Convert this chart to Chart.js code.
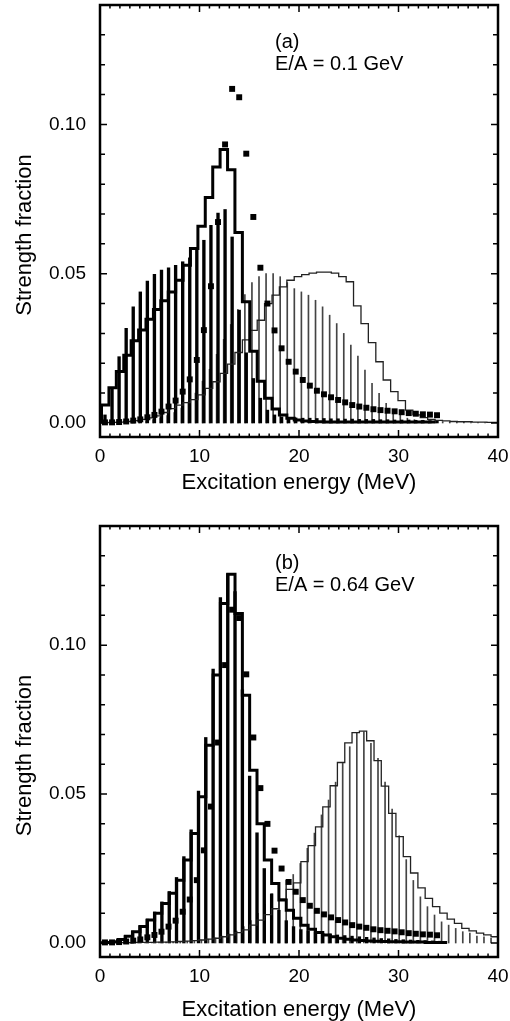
<!DOCTYPE html>
<html>
<head>
<meta charset="utf-8">
<script src="https://cdn.jsdelivr.net/npm/chart.js@4.4.1/dist/chart.umd.min.js"></script>
<style>
  html, body { margin: 0; padding: 0; background: #fff; }
  canvas { display: block; }
</style>
</head>
<body>
<canvas id="panelA" width="510" height="510"></canvas>
<canvas id="panelB" width="510" height="511"></canvas>
<script>
// squares: same reference strength in both panels
const squareEnergy = [0.50, 1.21, 1.92, 2.63, 3.34, 4.05, 4.76, 5.47, 6.18, 6.89, 7.60, 8.31, 9.02, 9.73, 10.44, 11.15,
  11.86, 12.57, 13.28, 13.99, 14.70, 15.41, 16.12, 16.83, 17.54, 18.25, 18.96, 19.67, 20.38, 21.09, 21.80, 22.51,
  23.22, 23.93, 24.64, 25.35, 26.06, 26.77, 27.48, 28.19, 28.90, 29.61, 30.32, 31.03, 31.74, 32.45, 33.16, 33.87];
const squareStrength = [0.0002, 0.0002, 0.0003, 0.0005, 0.0008, 0.0012, 0.0019, 0.0027, 0.0038, 0.0055, 0.0075, 0.0105,
  0.0146, 0.0211, 0.0311, 0.0458, 0.0673, 0.0933, 0.1119, 0.1091, 0.0902, 0.0690, 0.0520, 0.0400, 0.0310, 0.0250,
  0.0205, 0.0172, 0.0144, 0.0125, 0.0108, 0.0096, 0.0086, 0.0077, 0.0069, 0.0060, 0.0055, 0.0051, 0.0046, 0.0043,
  0.0041, 0.0039, 0.0036, 0.0033, 0.0031, 0.0029, 0.0028, 0.0026];

// panel (a): E/A = 0.1 GeV
const thickStickA = [0.0027, 0.0118, 0.0222, 0.0317, 0.0389, 0.0439, 0.0475, 0.0498, 0.0512, 0.0520, 0.0528, 0.0540,
  0.0553, 0.0579, 0.0612, 0.0662, 0.0703, 0.0715, 0.0623, 0.0378, 0.0235, 0.0149, 0.0083, 0.0043, 0.0027, 0.0020,
  0.0018, 0.0017, 0.0016, 0.0016, 0.0015, 0.0015, 0.0014, 0.0014, 0.0013, 0.0013, 0.0012, 0.0012, 0.0012, 0.0011,
  0.0011, 0.0010, 0.0010, 0.0010, 0.0009, 0.0009, 0.0008, 0.0008];
const thinStickEnergyA = [0.36, 1.07, 1.78, 2.49, 3.20, 3.91, 4.62, 5.33, 6.04, 6.75, 7.46, 8.17, 8.88, 9.59, 10.30,
  11.01, 11.72, 12.43, 13.14, 13.85, 14.56, 15.27, 15.98, 16.69, 17.40, 18.11, 18.82, 19.53, 20.24, 20.95, 21.66,
  22.37, 23.08, 23.79, 24.50, 25.21, 25.92, 26.63, 27.34, 28.05, 28.76, 29.47, 30.18, 30.89, 31.60, 32.31, 33.02,
  33.73, 34.44, 35.15, 35.86, 36.57, 37.28, 37.99, 38.70, 39.41];
const thinStickA = [0.0001, 0.0001, 0.0001, 0.0002, 0.0002, 0.0004, 0.0007, 0.0011, 0.0017, 0.0025, 0.0035, 0.0050,
  0.0070, 0.0100, 0.0140, 0.0180, 0.0230, 0.0280, 0.0330, 0.0380, 0.0430, 0.0470, 0.0490, 0.0500, 0.0500, 0.0490,
  0.0470, 0.0450, 0.0439, 0.0428, 0.0411, 0.0389, 0.0361, 0.0333, 0.0300, 0.0261, 0.0224, 0.0177, 0.0133, 0.0099,
  0.0066, 0.0043, 0.0027, 0.0016, 0.0011, 0.0008, 0.0006, 0.0005, 0.0004, 0.0003, 0.0002, 0.0002, 0.0001, 0.0001,
  0.0001, 0.0001];
const binEdgeA = [0, 0.15, 0.90, 1.64, 2.39, 3.13, 3.88, 4.62, 5.37, 6.11, 6.86, 7.60, 8.35, 9.09, 9.84, 10.58, 11.33,
  12.07, 12.82, 13.56, 14.31, 15.05, 15.80, 16.54, 17.29, 18.03, 18.78, 19.52, 20.27, 21.01, 21.76, 22.50, 23.25,
  23.99, 24.74, 25.48, 26.23, 26.97, 27.72, 28.46, 29.21, 29.95, 30.70, 31.44, 32.19, 32.93, 33.68, 34.42, 35.17,
  35.91, 36.66, 37.40, 38.15, 38.89, 39.64, 40.38];
const thickHistA = [0.0004, 0.0060, 0.0118, 0.0172, 0.0227, 0.0275, 0.0311, 0.0347, 0.0380, 0.0409, 0.0439, 0.0478,
  0.0528, 0.0584, 0.0659, 0.0755, 0.0857, 0.0916, 0.0848, 0.0638, 0.0406, 0.0240, 0.0140, 0.0083, 0.0047, 0.0027,
  0.0016, 0.0010, 0.0007, 0.0005, 0.0004, 0.0003, 0.0003, 0.0003, 0.0003, 0.0003, 0.0003, 0.0003, 0.0003, 0.0003,
  0.0003, 0.0003, 0.0003, 0.0003, 0.0003, 0.0003];
const thinHistA = [0.0001, 0.0001, 0.0002, 0.0003, 0.0005, 0.0008, 0.0012, 0.0017, 0.0024, 0.0035, 0.0048, 0.0060,
  0.0068, 0.0078, 0.0094, 0.0116, 0.0138, 0.0166, 0.0197, 0.0236, 0.0278, 0.0310, 0.0344, 0.0400, 0.0428, 0.0456,
  0.0478, 0.0490, 0.0497, 0.0502, 0.0505, 0.0505, 0.0502, 0.0490, 0.0473, 0.0392, 0.0333, 0.0269, 0.0205, 0.0144,
  0.0105, 0.0075, 0.0043, 0.0027, 0.0018, 0.0012, 0.0009, 0.0007, 0.0005, 0.0004, 0.0004, 0.0003, 0.0003, 0.0002,
  0.0002];

// panel (b): E/A = 0.64 GeV
const binEdgeB = [0, 0.34, 1.08, 1.81, 2.55, 3.28, 4.02, 4.75, 5.49, 6.22, 6.96, 7.69, 8.43, 9.16, 9.90, 10.63, 11.37,
  12.10, 12.84, 13.57, 14.31, 15.04, 15.78, 16.51, 17.25, 17.98, 18.72, 19.45, 20.19, 20.92, 21.66, 22.39, 23.13,
  23.86, 24.60, 25.33, 26.07, 26.80, 27.54, 28.27, 29.01, 29.74, 30.48, 31.21, 31.95, 32.68, 33.42, 34.15, 34.89,
  35.62, 36.36, 37.09, 37.83, 38.56, 39.30, 40.03];
const thickHistB = [0.0001, 0.0002, 0.0004, 0.0012, 0.0023, 0.0038, 0.0055, 0.0077, 0.0100, 0.0133, 0.0167, 0.0211,
  0.0279, 0.0368, 0.0491, 0.0664, 0.0900, 0.1140, 0.1238, 0.1106, 0.0832, 0.0580, 0.0400, 0.0279, 0.0200, 0.0144,
  0.0110, 0.0083, 0.0060, 0.0046, 0.0035, 0.0027, 0.0021, 0.0016, 0.0013, 0.0010, 0.0008, 0.0007, 0.0006, 0.0005,
  0.0004, 0.0004, 0.0003, 0.0003, 0.0003, 0.0002, 0.0002, 0.0002];
const thinHistB = [0.0001, 0.0001, 0.0001, 0.0001, 0.0001, 0.0002, 0.0002, 0.0002, 0.0003, 0.0003, 0.0004, 0.0005,
  0.0006, 0.0008, 0.0010, 0.0013, 0.0016, 0.0021, 0.0027, 0.0035, 0.0044, 0.0060, 0.0077, 0.0095, 0.0115, 0.0147,
  0.0180, 0.0202, 0.0273, 0.0327, 0.0390, 0.0457, 0.0528, 0.0606, 0.0672, 0.0706, 0.0711, 0.0679, 0.0612, 0.0527,
  0.0435, 0.0357, 0.0290, 0.0235, 0.0185, 0.0150, 0.0122, 0.0100, 0.0080, 0.0066, 0.0049, 0.0041, 0.0033, 0.0027,
  0.0021];
const thickStickEnergyB = binEdgeB.slice(1, 48);
const thickStickB = [0.0002, 0.0005, 0.0013, 0.0025, 0.0040, 0.0058, 0.0080, 0.0104, 0.0138, 0.0173, 0.0220, 0.0290,
  0.0380, 0.0510, 0.0690, 0.0920, 0.1160, 0.1240, 0.1180, 0.0850, 0.0560, 0.0370, 0.0250, 0.0165, 0.0110, 0.0075,
  0.0055, 0.0045, 0.0040, 0.0036, 0.0032, 0.0030, 0.0027, 0.0025, 0.0023, 0.0021, 0.0019, 0.0017, 0.0015, 0.0014,
  0.0012, 0.0011, 0.0010, 0.0009, 0.0008, 0.0007, 0.0006];
const thinStickEnergyB = [0.25, 0.96, 1.67, 2.38, 3.09, 3.80, 4.51, 5.22, 5.93, 6.64, 7.35, 8.06, 8.77, 9.48, 10.19,
  10.90, 11.61, 12.32, 13.03, 13.74, 14.45, 15.16, 15.87, 16.58, 17.29, 18.00, 18.71, 19.42, 20.13, 20.84, 21.55,
  22.26, 22.97, 23.68, 24.39, 25.10, 25.81, 26.52, 27.23, 27.94, 28.65, 29.36, 30.07, 30.78, 31.49, 32.20, 32.91,
  33.62, 34.33, 35.04, 35.75, 36.46, 37.17, 37.88, 38.59, 39.30];
const thinStickB = [0.0001, 0.0001, 0.0001, 0.0001, 0.0001, 0.0002, 0.0002, 0.0002, 0.0003, 0.0003, 0.0004, 0.0005,
  0.0006, 0.0008, 0.0010, 0.0013, 0.0017, 0.0023, 0.0030, 0.0040, 0.0055, 0.0075, 0.0100, 0.0130, 0.0165, 0.0190,
  0.0210, 0.0230, 0.0267, 0.0318, 0.0369, 0.0430, 0.0480, 0.0540, 0.0603, 0.0659, 0.0704, 0.0709, 0.0670, 0.0620,
  0.0540, 0.0450, 0.0360, 0.0280, 0.0210, 0.0155, 0.0122, 0.0094, 0.0071, 0.0060, 0.0049, 0.0038, 0.0033, 0.0023,
  0.0021, 0.0016];

const xTicks = [0, 10, 20, 30, 40];
const yTicks = [0, 0.05, 0.10];

const FONT = '"Liberation Sans", Arial, Helvetica, sans-serif';

function points(xs, ys) {
  return ys.map((y, i) => ({ x: xs[i], y }));
}

function histPoints(edges, values) {
  const pts = values.map((v, i) => ({ x: edges[i], y: v }));
  pts.push({ x: edges[values.length], y: values[values.length - 1] });
  return pts;
}

// frame, inward tick marks, y title and the panel note
const framePlugin = {
  id: 'frame',
  afterDraw(chart, args, opts) {
    const { ctx, chartArea: a } = chart;
    const x = chart.scales.x;
    const y = chart.scales.y;
    ctx.save();
    ctx.strokeStyle = '#000';
    ctx.lineWidth = 1.5;
    ctx.beginPath();
    for (let e = 1; e < 40; e++) {
      const px = x.getPixelForValue(e);
      const len = e % 10 === 0 ? 7 : 3.5;
      ctx.moveTo(px, a.bottom);
      ctx.lineTo(px, a.bottom - len);
      ctx.moveTo(px, a.top);
      ctx.lineTo(px, a.top + len);
    }
    for (let i = 0; i <= 13; i++) {
      const py = y.getPixelForValue(i / 100);
      const len = i % 5 === 0 ? 7 : 5;
      ctx.moveTo(a.left, py);
      ctx.lineTo(a.left + len, py);
      ctx.moveTo(a.right, py);
      ctx.lineTo(a.right - len, py);
    }
    ctx.stroke();
    ctx.lineWidth = 2.5;
    ctx.strokeRect(a.left, a.top, a.right - a.left, a.bottom - a.top);

    ctx.fillStyle = '#000';
    ctx.font = '20px ' + FONT;
    ctx.textBaseline = 'middle';
    ctx.textAlign = 'left';
    ctx.fillText(opts.tag, a.left + 175, a.top + 37);
    ctx.fillText(opts.note, a.left + 175, a.top + 59);

    ctx.font = '22px ' + FONT;
    ctx.textAlign = 'center';
    ctx.translate(25, (a.top + a.bottom) / 2 + 14);
    ctx.rotate(-Math.PI / 2);
    ctx.fillText('Strength fraction', 0, 0);
    ctx.restore();
  }
};

function makePanel(canvasId, cfg) {
  const ctx = document.getElementById(canvasId);
  return new Chart(ctx, {
    type: 'line',
    data: {
      datasets: [
        {
          type: 'scatter',
          data: points(squareEnergy, squareStrength),
          pointStyle: 'rect',
          pointRadius: 4.2,
          backgroundColor: '#000',
          borderWidth: 0,
          order: 0,
        },
        {
          type: 'line',
          data: histPoints(cfg.edges, cfg.thickHist),
          stepped: true,
          borderColor: '#000',
          borderWidth: 3,
          pointRadius: 0,
          fill: false,
          order: 1,
        },
        {
          type: 'line',
          data: histPoints(cfg.edges, cfg.thinHist),
          stepped: true,
          borderColor: '#222',
          borderWidth: 1.3,
          pointRadius: 0,
          fill: false,
          order: 2,
        },
        {
          type: 'bar',
          data: points(cfg.thickStickEnergy, cfg.thickStick),
          backgroundColor: '#000',
          barThickness: 2.7,
          grouped: false,
          order: 3,
        },
        {
          type: 'bar',
          data: points(cfg.thinStickEnergy, cfg.thinStick),
          backgroundColor: '#444',
          barThickness: 1,
          grouped: false,
          order: 4,
        },
      ],
    },
    options: {
      responsive: false,
      animation: false,
      devicePixelRatio: 1,
      layout: { padding: { left: 0, right: 12, top: cfg.top, bottom: 0 } },
      plugins: {
        legend: { display: false },
        tooltip: { enabled: false },
        frame: { tag: cfg.tag, note: cfg.note },
      },
      scales: {
        x: {
          type: 'linear',
          min: 0,
          max: 40,
          offset: false,
          grid: { display: false, drawTicks: false },
          border: { display: false },
          afterBuildTicks: (scale) => { scale.ticks = xTicks.map((v) => ({ value: v })); },
          afterFit: (scale) => {
            scale.height = cfg.xAxisHeight;
            scale.paddingLeft = 0;
            scale.paddingRight = 0;
          },
          ticks: {
            padding: 8,
            color: '#000',
            font: { family: FONT, size: 19 },
            maxRotation: 0,
            callback: (v) => String(v),
          },
          title: {
            display: true,
            text: 'Excitation energy (MeV)',
            color: '#000',
            font: { family: FONT, size: 22, lineHeight: 1 },
            padding: { top: 0, bottom: cfg.titlePad },
          },
        },
        y: {
          type: 'linear',
          min: -0.0047,
          max: 0.14,
          grid: { display: false, drawTicks: false },
          border: { display: false },
          afterBuildTicks: (scale) => { scale.ticks = yTicks.map((v) => ({ value: v })); },
          afterFit: (scale) => {
            scale.width = 100;
            scale.paddingTop = 0;
            scale.paddingBottom = 0;
          },
          ticks: {
            padding: 14,
            color: '#000',
            font: { family: FONT, size: 19 },
            callback: (v) => v.toFixed(2),
          },
        },
      },
    },
    plugins: [framePlugin],
  });
}

makePanel('panelA', {
  tag: '(a)',
  note: 'E/A = 0.1 GeV',
  top: 5,
  xAxisHeight: 73,
  titlePad: 16,
  edges: binEdgeA,
  thickHist: thickHistA,
  thinHist: thinHistA,
  thickStickEnergy: squareEnergy,
  thickStick: thickStickA,
  thinStickEnergy: thinStickEnergyA,
  thinStick: thinStickA,
});

makePanel('panelB', {
  tag: '(b)',
  note: 'E/A = 0.64 GeV',
  top: 16,
  xAxisHeight: 64,
  titlePad: 0,
  edges: binEdgeB,
  thickHist: thickHistB,
  thinHist: thinHistB,
  thickStickEnergy: thickStickEnergyB,
  thickStick: thickStickB,
  thinStickEnergy: thinStickEnergyB,
  thinStick: thinStickB,
});
</script>
</body>
</html>
